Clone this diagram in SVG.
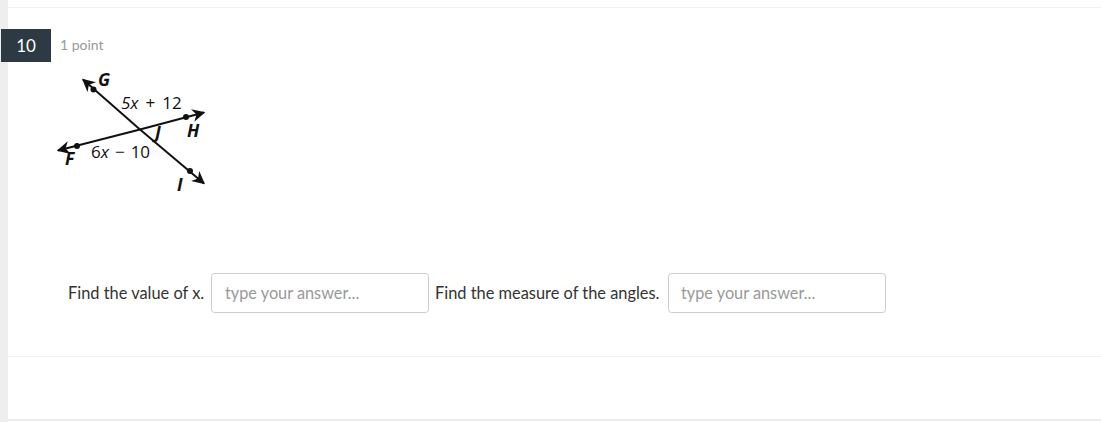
<svg xmlns="http://www.w3.org/2000/svg" width="1101" height="422" viewBox="0 0 1101 422">
<style>
.ui{font-family:Lato,"Liberation Sans",sans-serif}
.lbl{font-family:"Open Sans","Liberation Sans",sans-serif;font-size:17.5px;font-weight:bold;font-style:italic;fill:#111}
.expr{font-family:"Open Sans","Liberation Sans",sans-serif;font-size:17px;fill:#111}
.ln{stroke:#111;stroke-width:2;fill:none}
.dot{fill:#111}
.box{fill:#fff;stroke:#ccc;stroke-width:1}
.ph{font-size:16.3px;fill:#999}
.q{font-size:16.4px;fill:#333}
</style>
<defs>
<marker id="arr" viewBox="0 0 10 10" refX="9" refY="5" markerWidth="6.5" markerHeight="6.5" orient="auto-start-reverse" markerUnits="strokeWidth">
<path d="M0,0 L10,5 L0,10 L3,5 Z" fill="#111"/>
</marker>
</defs>
<rect x="0" y="0" width="1101" height="422" fill="#fff"/>
<rect x="0" y="0" width="8" height="422" fill="#eeeeee"/>
<line x1="8" y1="7.5" x2="1101" y2="7.5" stroke="#f0f0f0" stroke-width="1"/>
<line x1="8" y1="356.5" x2="1101" y2="356.5" stroke="#f2f2f2" stroke-width="1"/>
<line x1="8" y1="420" x2="1101" y2="420" stroke="#e6e6e6" stroke-width="1.5"/>

<g id="badge">
<rect x="1" y="29" width="50" height="33" fill="#2d3a44"/>
<text class="ui" x="26" y="51.5" font-size="17" fill="#fff" text-anchor="middle">10</text>
</g>
<text class="ui" x="60" y="50" font-size="14" fill="#999">1 point</text>

<g id="figure">
<g id="connectors">
<line class="ln" x1="140" y1="129.5" x2="83" y2="79.5" marker-end="url(#arr)"/>
<line class="ln" x1="140" y1="129.5" x2="204" y2="183.5" marker-end="url(#arr)"/>
<line class="ln" x1="140" y1="129.5" x2="58" y2="150.5" marker-end="url(#arr)"/>
<line class="ln" x1="140" y1="129.5" x2="204" y2="112.5" marker-end="url(#arr)"/>
</g>
<g id="node-G"><circle class="dot" cx="93.5" cy="89.5" r="3"/><text class="lbl" x="98" y="86">G</text></g>
<g id="node-H"><circle class="dot" cx="186" cy="117" r="3"/><text class="lbl" x="187" y="137">H</text></g>
<g id="node-F"><circle class="dot" cx="77" cy="146" r="3"/><text class="lbl" x="65" y="165">F</text></g>
<g id="node-I"><circle class="dot" cx="190" cy="171" r="3"/><text class="lbl" x="177" y="191">I</text></g>
<g id="node-J"><text class="lbl" x="155" y="139">J</text></g>
<text class="expr" x="121" y="109"><tspan font-style="italic">5x</tspan><tspan dx="7">+</tspan><tspan dx="7">12</tspan></text>
<text class="expr" x="91" y="158">6<tspan font-style="italic">x</tspan><tspan dx="6">−</tspan><tspan dx="6">10</tspan></text>
</g>

<g id="answers">
<text class="ui q" x="68" y="299">Find the value of x.</text>
<rect class="box" x="211.5" y="273.5" width="217" height="39" rx="3"/>
<text class="ui ph" x="225" y="299">type your answer...</text>
<text class="ui q" x="435" y="299">Find the measure of the angles.</text>
<rect class="box" x="668.5" y="273.5" width="217" height="39" rx="3"/>
<text class="ui ph" x="681" y="299">type your answer...</text>
</g>
</svg>
